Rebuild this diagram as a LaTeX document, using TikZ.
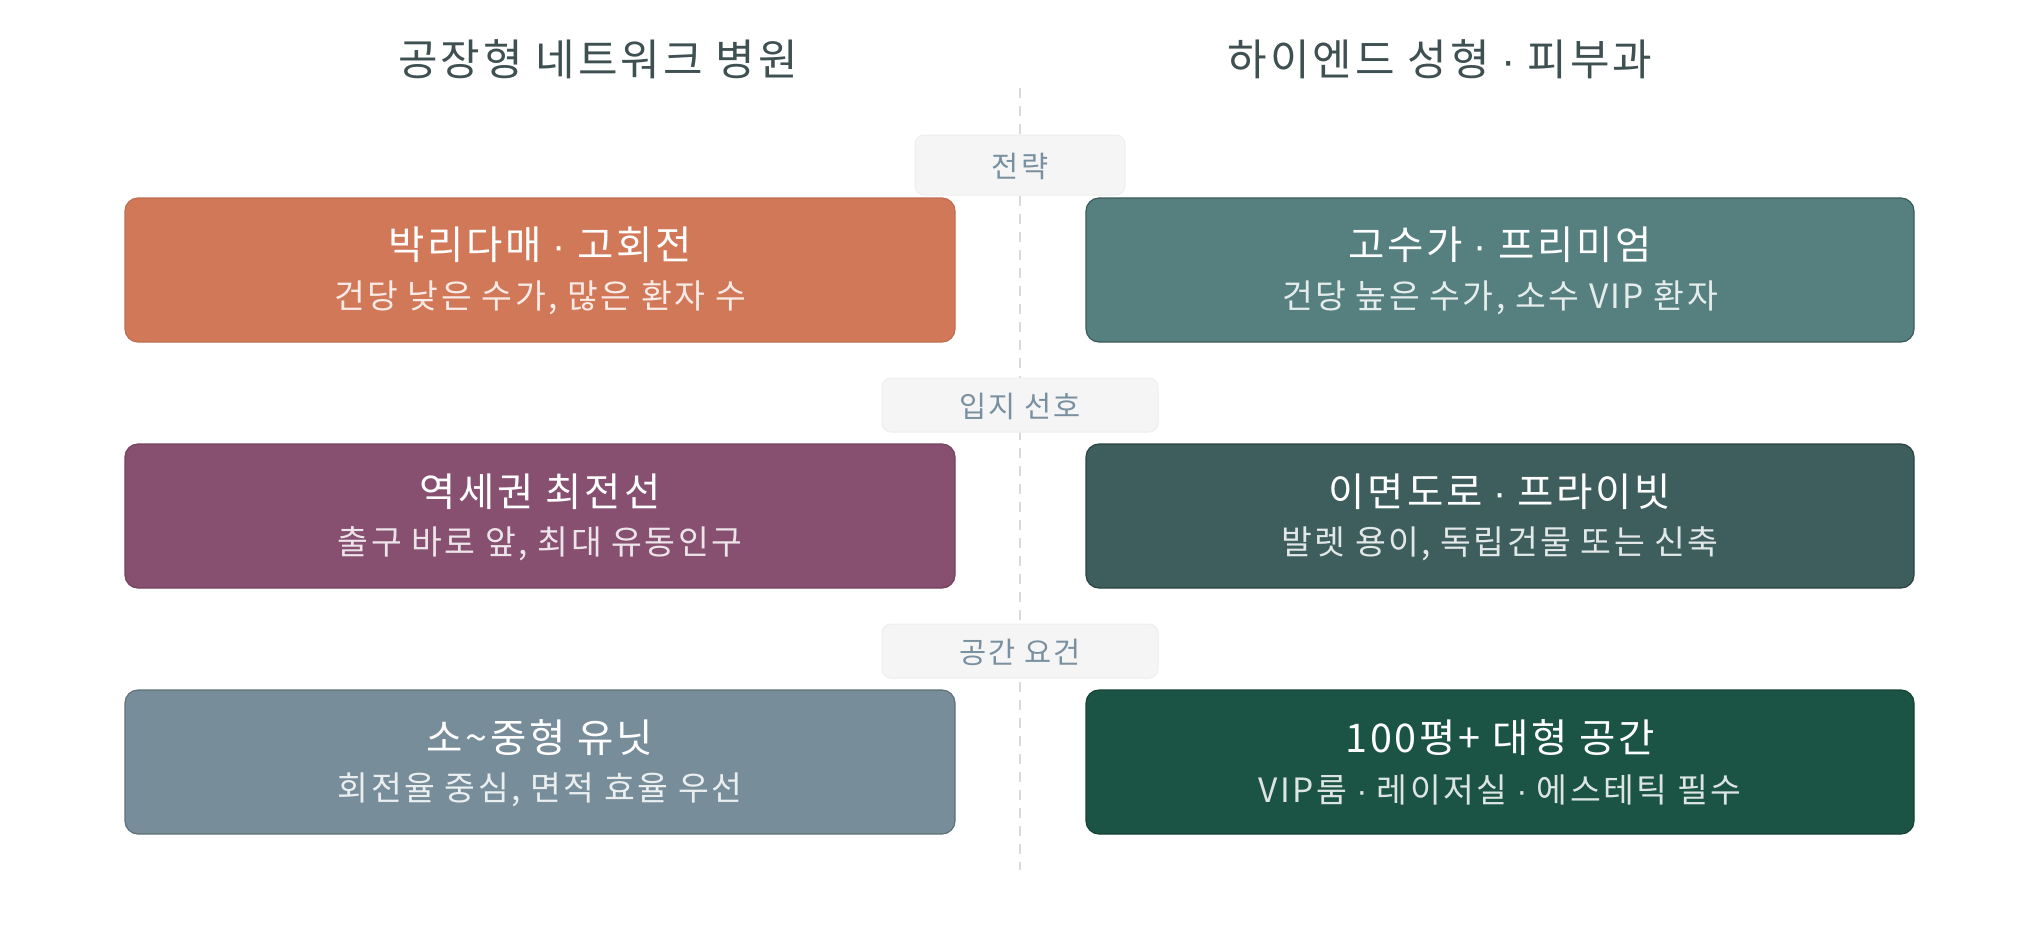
\documentclass[tikz,border=0pt]{standalone}
\usepackage{fontspec}
\setmainfont[LetterSpace=7]{Noto Sans CJK KR}
\newfontfamily\dotf{Liberation Sans}
\newcommand{\md}{{\dotf\ ·\ }}
\definecolor{titlec}{HTML}{3F5052}
\definecolor{labc}{HTML}{7890A0}
\definecolor{labfill}{HTML}{F5F5F5}
\definecolor{labdraw}{HTML}{EEEEEE}
\definecolor{linec}{HTML}{D5DADD}
\definecolor{cA}{HTML}{D17858}
\definecolor{cB}{HTML}{568080}
\definecolor{cC}{HTML}{874F70}
\definecolor{cD}{HTML}{3E5E5E}
\definecolor{cE}{HTML}{778D99}
\definecolor{cF}{HTML}{1B5444}
\tikzset{
  card/.style={rounded corners=13pt, line width=1.2pt},
  maintxt/.style={text=white, font=\fontsize{39.5}{46}\selectfont, anchor=center},
  subtxt/.style={text=white, text opacity=0.85, font=\fontsize{33.5}{40}\selectfont, anchor=center},
  lab/.style={fill=labfill, draw=labdraw, rounded corners=9pt, line width=1pt},
  labtxt/.style={text=labc, font=\fontsize{29.5}{34}\selectfont, anchor=center},
  ttl/.style={text=titlec, font=\fontsize{43}{50}\selectfont, anchor=center}
}
\begin{document}
\begin{tikzpicture}[x=1pt,y=-1pt]
\useasboundingbox[fill=white] (0,0) rectangle (2040,930);
% center dashed line
\coordinate (ltop) at (1020,88);
\coordinate (lbot) at (1020,870);
\draw[linec, line width=2pt, dash pattern=on 10pt off 8pt] (ltop) -- (lbot);
% titles
\node[ttl] (t1) at (598,59) {공장형 네트워크 병원};
\node[ttl] (t2) at (1440,59) {하이엔드 성형\md 피부과};
% labels
\draw[lab] (915,135) rectangle (1125,195);
\node[labtxt] (l1) at (1020,166) {전략};
\draw[lab] (882,378) rectangle (1158,432);
\node[labtxt] (l2) at (1020,406) {입지 선호};
\draw[lab] (882,624) rectangle (1158,678);
\node[labtxt] (l3) at (1020,652) {공간 요건};
% row 1
\draw[card, fill=cA, draw=cA!92!black] (125,198) rectangle (955,342);
\node[maintxt] (a1) at (540,245) {박리다매\md 고회전};
\node[subtxt] (a2) at (540,298) {건당 낮은 수가, 많은 환자 수};
\draw[card, fill=cB, draw=cB!70!black] (1086,198) rectangle (1914,342);
\node[maintxt] (b1) at (1500,245) {고수가\md 프리미엄};
\node[subtxt] (b2) at (1500,298) {건당 높은 수가, 소수 VIP 환자};
% row 2
\draw[card, fill=cC, draw=cC!85!black] (125,444) rectangle (955,588);
\node[maintxt] (c1) at (540,492) {역세권 최전선};
\node[subtxt] (c2) at (540,544) {출구 바로 앞, 최대 유동인구};
\draw[card, fill=cD, draw=cD!70!black] (1086,444) rectangle (1914,588);
\node[maintxt] (d1) at (1500,492) {이면도로\md 프라이빗};
\node[subtxt] (d2) at (1500,544) {발렛 용이, 독립건물 또는 신축};
% row 3
\draw[card, fill=cE, draw=cE!80!black] (125,690) rectangle (955,834);
\node[maintxt] (e1) at (540,738) {소\textasciitilde 중형 유닛};
\node[subtxt] (e2) at (540,790) {회전율 중심, 면적 효율 우선};
\draw[card, fill=cF, draw=cF!80!black] (1086,690) rectangle (1914,834);
\node[maintxt] (f1) at (1500,738) {100평+ 대형 공간};
\node[subtxt] (f2) at (1500,790) {VIP룸\md 레이저실\md 에스테틱 필수};
\end{tikzpicture}
\end{document}
